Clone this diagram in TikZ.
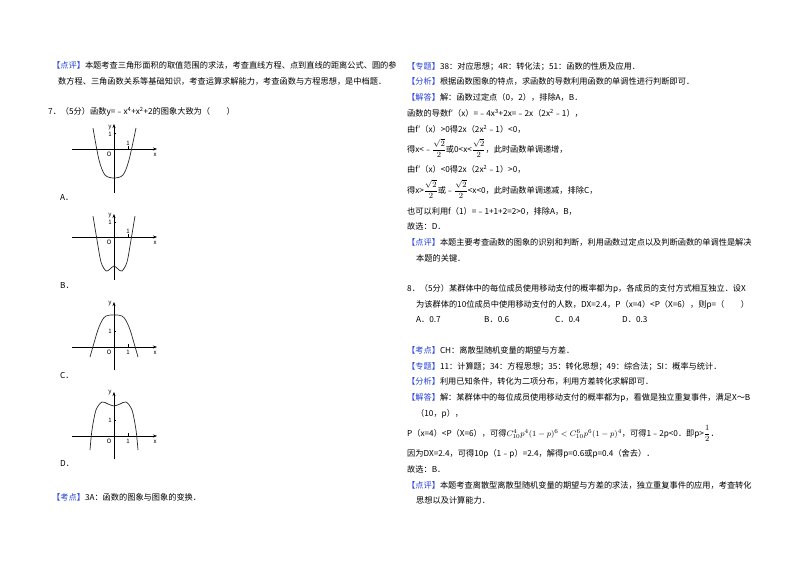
\documentclass[tikz,border=0pt]{standalone}
\usepackage{fontspec}
\setmainfont{Noto Sans CJK SC}
\usepackage{amsmath}
\usetikzlibrary{arrows.meta}
\definecolor{tagblue}{rgb}{0.15,0.25,0.85}
\newcommand{\tagb}[1]{\textcolor{tagblue}{【#1】}}
\newcommand{\sq}{\dfrac{\sqrt{2}}{2}}
\tikzset{
  txt/.style={anchor=base west, inner sep=0pt, font=\fontsize{8.2}{10}\selectfont},
  ax/.style={line width=0.5pt, -{Stealth[length=4pt,width=3pt]}},
  crv/.style={line width=0.7pt, gray!30!black},
  lbl/.style={inner sep=0pt, font=\fontsize{6}{7}\selectfont\itshape},
  tck/.style={line width=0.4pt},
}
\begin{document}
\begin{tikzpicture}[x=1pt,y=-1pt]
\useasboundingbox (0,0) rectangle (800,565);
% left column
\node[txt] (l1) at (52,68) {\tagb{点评}本题考查三角形面积的取值范围的求法，考查直线方程、点到直线的距离公式、圆的参};
\node[txt] (l2) at (58,84) {数方程、三角函数关系等基础知识，考查运算求解能力，考查函数与方程思想，是中档题．};
\node[txt] (q7) at (48,114) {7．（5分）函数y=﹣x\textsuperscript{4}+x\textsuperscript{2}+2的图象大致为（　　）};
% graph A
\draw[ax] (72,149) -- (157,149);
\draw[ax] (114,193) -- (114,124);
\draw[tck] (114,133) -- (116,133) (128,149) -- (128,146);
\draw[crv] plot[smooth] coordinates {(93,128) (99,160) (105,175) (114,178) (123,175) (129,160) (136,128)};
\node[lbl] (ay) at (110,128) {y};
\node[lbl] (ax) at (155,155) {x};
\node[lbl] (ao) at (109,154) {O};
\node[lbl,font=\fontsize{6}{7}\selectfont] (a1) at (110,134) {1};
\node[lbl,font=\fontsize{6}{7}\selectfont] (a2) at (128,143) {1};
\node[txt] (la) at (60,200) {A．};
% graph B
\draw[ax] (72,237) -- (157,237);
\draw[ax] (114,280) -- (114,214);
\draw[tck] (114,222) -- (116,222) (128,237) -- (128,234);
\draw[crv] plot[smooth] coordinates {(93,216) (97,240) (101,262) (106,271) (110,269) (114,266) (118,269) (122,271) (127,262) (131,240) (135,216)};
\node[lbl] (by) at (110,216) {y};
\node[lbl] (bx) at (155,243) {x};
\node[lbl] (bo) at (109,242) {O};
\node[lbl,font=\fontsize{6}{7}\selectfont] (b1) at (110,222) {1};
\node[lbl,font=\fontsize{6}{7}\selectfont] (b2) at (128,231) {1};
\node[txt] (lb) at (60,288) {B．};
% graph C
\draw[ax] (72,347) -- (157,347);
\draw[ax] (114,370) -- (114,302);
\draw[tck] (114,331) -- (116,331) (128,347) -- (128,344);
\draw[crv] plot[smooth] coordinates {(90,357) (94,343) (99,327) (106,316) (122,316) (129,327) (134,343) (138,357)};
\node[lbl] (cy) at (110,304) {y};
\node[lbl] (cx) at (155,353) {x};
\node[lbl] (co) at (109,352) {O};
\node[lbl,font=\fontsize{6}{7}\selectfont] (c1) at (110,331) {1};
\node[lbl,font=\fontsize{6}{7}\selectfont] (c2) at (128,352) {1};
\node[txt] (lc) at (60,378) {C．};
% graph D
\draw[ax] (72,436) -- (157,436);
\draw[ax] (114,459) -- (114,392);
\draw[tck] (114,420) -- (116,420) (128,436) -- (128,433);
\draw[crv] plot[smooth] coordinates {(90,450) (92,430) (96,410) (102,402) (108,404) (114,406) (120,404) (126,402) (132,410) (136,430) (138,450)};
\node[lbl] (dy) at (110,393) {y};
\node[lbl] (dx) at (155,442) {x};
\node[lbl] (do) at (109,441) {O};
\node[lbl,font=\fontsize{6}{7}\selectfont] (d1) at (110,420) {1};
\node[lbl,font=\fontsize{6}{7}\selectfont] (d2) at (128,441) {1};
\node[txt] (ld) at (60,466) {D．};
\node[txt] (kd) at (52,500) {\tagb{考点}3A：函数的图象与图象的变换．};
% right column
\node[txt] (r1) at (407,69) {\tagb{专题}38：对应思想；4R：转化法；51：函数的性质及应用．};
\node[txt] (r2) at (407,84) {\tagb{分析}根据函数图象的特点，求函数的导数利用函数的单调性进行判断即可．};
\node[txt] (r3) at (407,100) {\tagb{解答}解：函数过定点（0，2），排除A，B．};
\node[txt] (r4) at (407,116) {函数的导数f′（x）=﹣4x\textsuperscript{3}+2x=﹣2x（2x\textsuperscript{2}﹣1），};
\node[txt] (r5) at (407,132) {由f′（x）>0得2x（2x\textsuperscript{2}﹣1）<0，};
\node[txt] (r6) at (407,152) {得x<﹣$\sq$或0<x<$\sq$，此时函数单调递增，};
\node[txt] (r7) at (407,172) {由f′（x）<0得2x（2x\textsuperscript{2}﹣1）>0，};
\node[txt] (r8) at (407,193) {得x>$\sq$或﹣$\sq$<x<0，此时函数单调递减，排除C，};
\node[txt] (r9) at (407,214) {也可以利用f（1）=﹣1+1+2=2>0，排除A，B，};
\node[txt] (r10) at (407,229) {故选：D．};
\node[txt] (r11) at (407,245) {\tagb{点评}本题主要考查函数的图象的识别和判断，利用函数过定点以及判断函数的单调性是解决};
\node[txt] (r12) at (416,261) {本题的关键．};
\node[txt] (q8) at (407,291) {8．（5分）某群体中的每位成员使用移动支付的概率都为p，各成员的支付方式相互独立．设X};
\node[txt] (q8b) at (416,307) {为该群体的10位成员中使用移动支付的人数，DX=2.4，P（x=4）<P（X=6），则p=（　　）};
\node[txt] (oa) at (416,322) {A．0.7};
\node[txt] (ob) at (484,322) {B．0.6};
\node[txt] (oc) at (555,322) {C．0.4};
\node[txt] (od) at (622,322) {D．0.3};
\node[txt] (s1) at (407,353) {\tagb{考点}CH：离散型随机变量的期望与方差．};
\node[txt] (s2) at (407,369) {\tagb{专题}11：计算题；34：方程思想；35：转化思想；49：综合法；SI：概率与统计．};
\node[txt] (s3) at (407,384) {\tagb{分析}利用已知条件，转化为二项分布，利用方差转化求解即可．};
\node[txt] (s4) at (407,400) {\tagb{解答}解：某群体中的每位成员使用移动支付的概率都为p，看做是独立重复事件，满足X～B};
\node[txt] (s5) at (416,416) {（10，p），};
\node[txt] (s6) at (407,436) {P（x=4）<P（X=6），可得$C_{10}^{4}p^{4}(1-p)^{6}<C_{10}^{6}p^{6}(1-p)^{4}$，可得1﹣2p<0．即p>$\dfrac{1}{2}$．};
\node[txt] (s7) at (407,456) {因为DX=2.4，可得10p（1﹣p）=2.4，解得p=0.6或p=0.4（舍去）．};
\node[txt] (s8) at (407,472) {故选：B．};
\node[txt] (s9) at (407,488) {\tagb{点评}本题考查离散型离散型随机变量的期望与方差的求法，独立重复事件的应用，考查转化};
\node[txt] (s10) at (416,503) {思想以及计算能力．};
\end{tikzpicture}
\end{document}
